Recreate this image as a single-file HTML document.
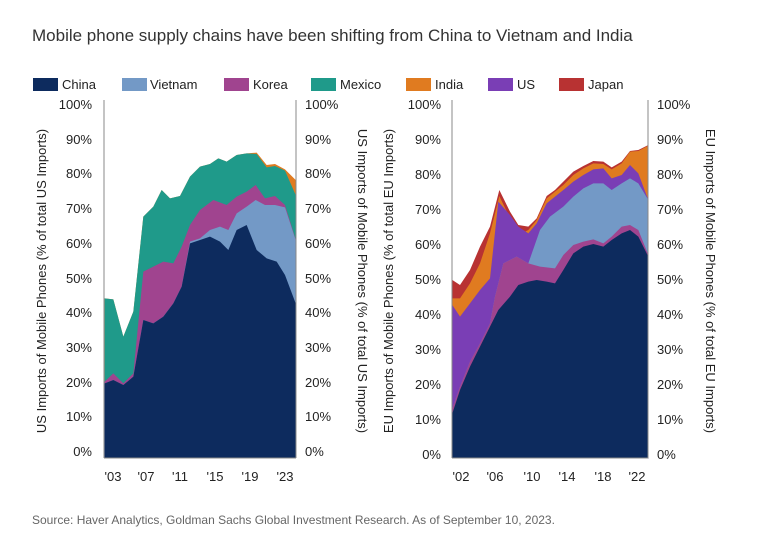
<!DOCTYPE html>
<html><head><meta charset="utf-8"><style>
body{margin:0;background:#fff;}
svg text{font-family:"Liberation Sans",sans-serif;}
</style></head><body>
<svg width="770" height="554" viewBox="0 0 770 554" xmlns="http://www.w3.org/2000/svg">
<text x="32" y="41" font-size="17" fill="#333">Mobile phone supply chains have been shifting from China to Vietnam and India</text>
<g font-size="13" fill="#222">
<rect x="33" y="78" width="25" height="13" fill="#0d2b5e"/><text x="62" y="89">China</text>
<rect x="122" y="78" width="25" height="13" fill="#7399c6"/><text x="150" y="89">Vietnam</text>
<rect x="224" y="78" width="25" height="13" fill="#a0448f"/><text x="253" y="89">Korea</text>
<rect x="311" y="78" width="25" height="13" fill="#1f9a8a"/><text x="340" y="89">Mexico</text>
<rect x="406" y="78" width="25" height="13" fill="#e07b20"/><text x="435" y="89">India</text>
<rect x="488" y="78" width="25" height="13" fill="#7a3eb5"/><text x="517" y="89">US</text>
<rect x="559" y="78" width="25" height="13" fill="#b83232"/><text x="588" y="89">Japan</text>
</g>
<!-- left chart -->
<g transform="translate(90,90) scale(0.3333333)">
<polygon fill="#e07b20" points="44,1105 44,625 70,628 100,740 130,665 160,380 190,350 215,300 240,325 270,318 300,260 330,230 360,222 385,205 410,215 440,195 470,190 500,188 530,225 555,222 585,238 617,270 617,1105"/>
<polygon fill="#1f9a8a" points="44,1105 44,625 70,628 100,740 130,665 160,380 190,350 215,300 240,325 270,318 300,260 330,230 360,222 385,205 410,215 440,195 470,190 500,192 530,232 555,228 585,242 617,315 617,1105"/>
<polygon fill="#a0448f" points="44,1105 44,875 70,850 100,880 130,850 160,545 190,530 220,515 250,520 275,470 300,405 330,360 370,330 410,345 440,320 470,305 497,285 525,325 555,318 585,345 617,448 617,1105"/>
<polygon fill="#7399c6" points="44,1105 44,880 70,870 100,885 130,860 160,690 190,700 220,680 250,640 275,590 300,455 330,445 360,420 390,410 415,420 440,370 470,350 497,330 525,345 555,345 585,352 617,450 617,1105"/>
<polygon fill="#0d2b5e" points="44,1105 44,880 70,870 100,885 130,860 160,690 190,700 220,680 250,640 275,590 300,460 330,450 360,440 390,455 415,480 440,420 470,405 500,480 530,505 560,515 585,555 617,640 617,1105"/>
</g>
<line x1="104" y1="100" x2="104" y2="458" stroke="#888"/>
<line x1="296" y1="100" x2="296" y2="458" stroke="#888"/>
<line x1="104" y1="458" x2="296" y2="458" stroke="#888"/>
<!-- right chart -->
<g transform="translate(440,90) scale(0.3333333)">
<polygon fill="#b83232" points="37,1105 37,570 60,585 90,540 120,470 150,410 178,300 210,365 235,405 265,410 290,385 320,318 345,300 370,275 400,245 430,228 460,213 490,215 515,232 545,215 570,183 595,180 625,165 625,1105"/>
<polygon fill="#e07b20" points="37,1105 37,625 60,625 90,580 120,520 150,430 178,318 210,385 235,435 265,420 290,390 320,325 345,305 370,285 400,255 430,235 460,220 490,222 515,238 545,220 570,185 595,183 625,167 625,1105"/>
<polygon fill="#7a3eb5" points="37,1105 37,645 60,680 90,640 120,600 150,565 175,335 210,375 235,410 265,430 290,400 320,340 345,320 370,300 400,275 430,255 460,238 490,235 515,265 545,255 570,225 595,250 625,330 625,1105"/>
<polygon fill="#7399c6" points="37,1105 37,955 60,890 90,815 120,760 150,700 165,620 190,520 230,500 265,520 300,420 330,380 370,350 400,320 430,295 460,280 490,280 515,300 545,280 570,265 595,280 625,330 625,1105"/>
<polygon fill="#a0448f" points="37,1105 37,955 60,890 90,815 120,760 150,700 165,620 190,520 230,500 265,520 300,530 345,535 370,495 400,465 430,455 460,448 490,460 515,440 545,410 570,405 595,420 625,495 625,1105"/>
<polygon fill="#0d2b5e" points="37,1105 37,970 60,900 90,830 120,770 150,710 175,660 210,620 235,585 265,575 290,570 320,575 345,580 370,540 400,490 430,470 460,462 490,470 515,450 545,430 570,420 595,440 625,500 625,1105"/>
</g>
<line x1="452" y1="100" x2="452" y2="458" stroke="#888"/>
<line x1="648" y1="100" x2="648" y2="458" stroke="#888"/>
<line x1="452" y1="458" x2="648" y2="458" stroke="#888"/>
<g font-size="13" fill="#222">
<g text-anchor="end">
<text x="92" y="109">100%</text><text x="92" y="144">90%</text><text x="92" y="178">80%</text><text x="92" y="213">70%</text><text x="92" y="248">60%</text><text x="92" y="283">50%</text><text x="92" y="317">40%</text><text x="92" y="352">30%</text><text x="92" y="387">20%</text><text x="92" y="421">10%</text><text x="92" y="456">0%</text>
<text x="441" y="109">100%</text><text x="441" y="144">90%</text><text x="441" y="179">80%</text><text x="441" y="214">70%</text><text x="441" y="249">60%</text><text x="441" y="284">50%</text><text x="441" y="319">40%</text><text x="441" y="354">30%</text><text x="441" y="389">20%</text><text x="441" y="424">10%</text><text x="441" y="459">0%</text>
</g>
<text x="305" y="109">100%</text><text x="305" y="144">90%</text><text x="305" y="178">80%</text><text x="305" y="213">70%</text><text x="305" y="248">60%</text><text x="305" y="283">50%</text><text x="305" y="317">40%</text><text x="305" y="352">30%</text><text x="305" y="387">20%</text><text x="305" y="421">10%</text><text x="305" y="456">0%</text>
<text x="657" y="109">100%</text><text x="657" y="144">90%</text><text x="657" y="179">80%</text><text x="657" y="214">70%</text><text x="657" y="249">60%</text><text x="657" y="284">50%</text><text x="657" y="319">40%</text><text x="657" y="354">30%</text><text x="657" y="389">20%</text><text x="657" y="424">10%</text><text x="657" y="459">0%</text>
<g text-anchor="middle">
<text x="113" y="481">'03</text><text x="146" y="481">'07</text><text x="180" y="481">'11</text><text x="215" y="481">'15</text><text x="250" y="481">'19</text><text x="285" y="481">'23</text>
<text x="461" y="481">'02</text><text x="495" y="481">'06</text><text x="532" y="481">'10</text><text x="567" y="481">'14</text><text x="603" y="481">'18</text><text x="637" y="481">'22</text>
<text transform="translate(46,281) rotate(-90)">US Imports of Mobile Phones (% of total US Imports)</text>
<text transform="translate(358,281) rotate(90)">US Imports of Mobile Phones (% of total US Imports)</text>
<text transform="translate(393,281) rotate(-90)">EU Imports of Mobile Phones (% of total EU Imports)</text>
<text transform="translate(706,281) rotate(90)">EU Imports of Mobile Phones (% of total EU Imports)</text>
</g>
</g>
<text x="32" y="524" font-size="12" fill="#666">Source: Haver Analytics, Goldman Sachs Global Investment Research. As of September 10, 2023.</text>
</svg>
</body></html>
